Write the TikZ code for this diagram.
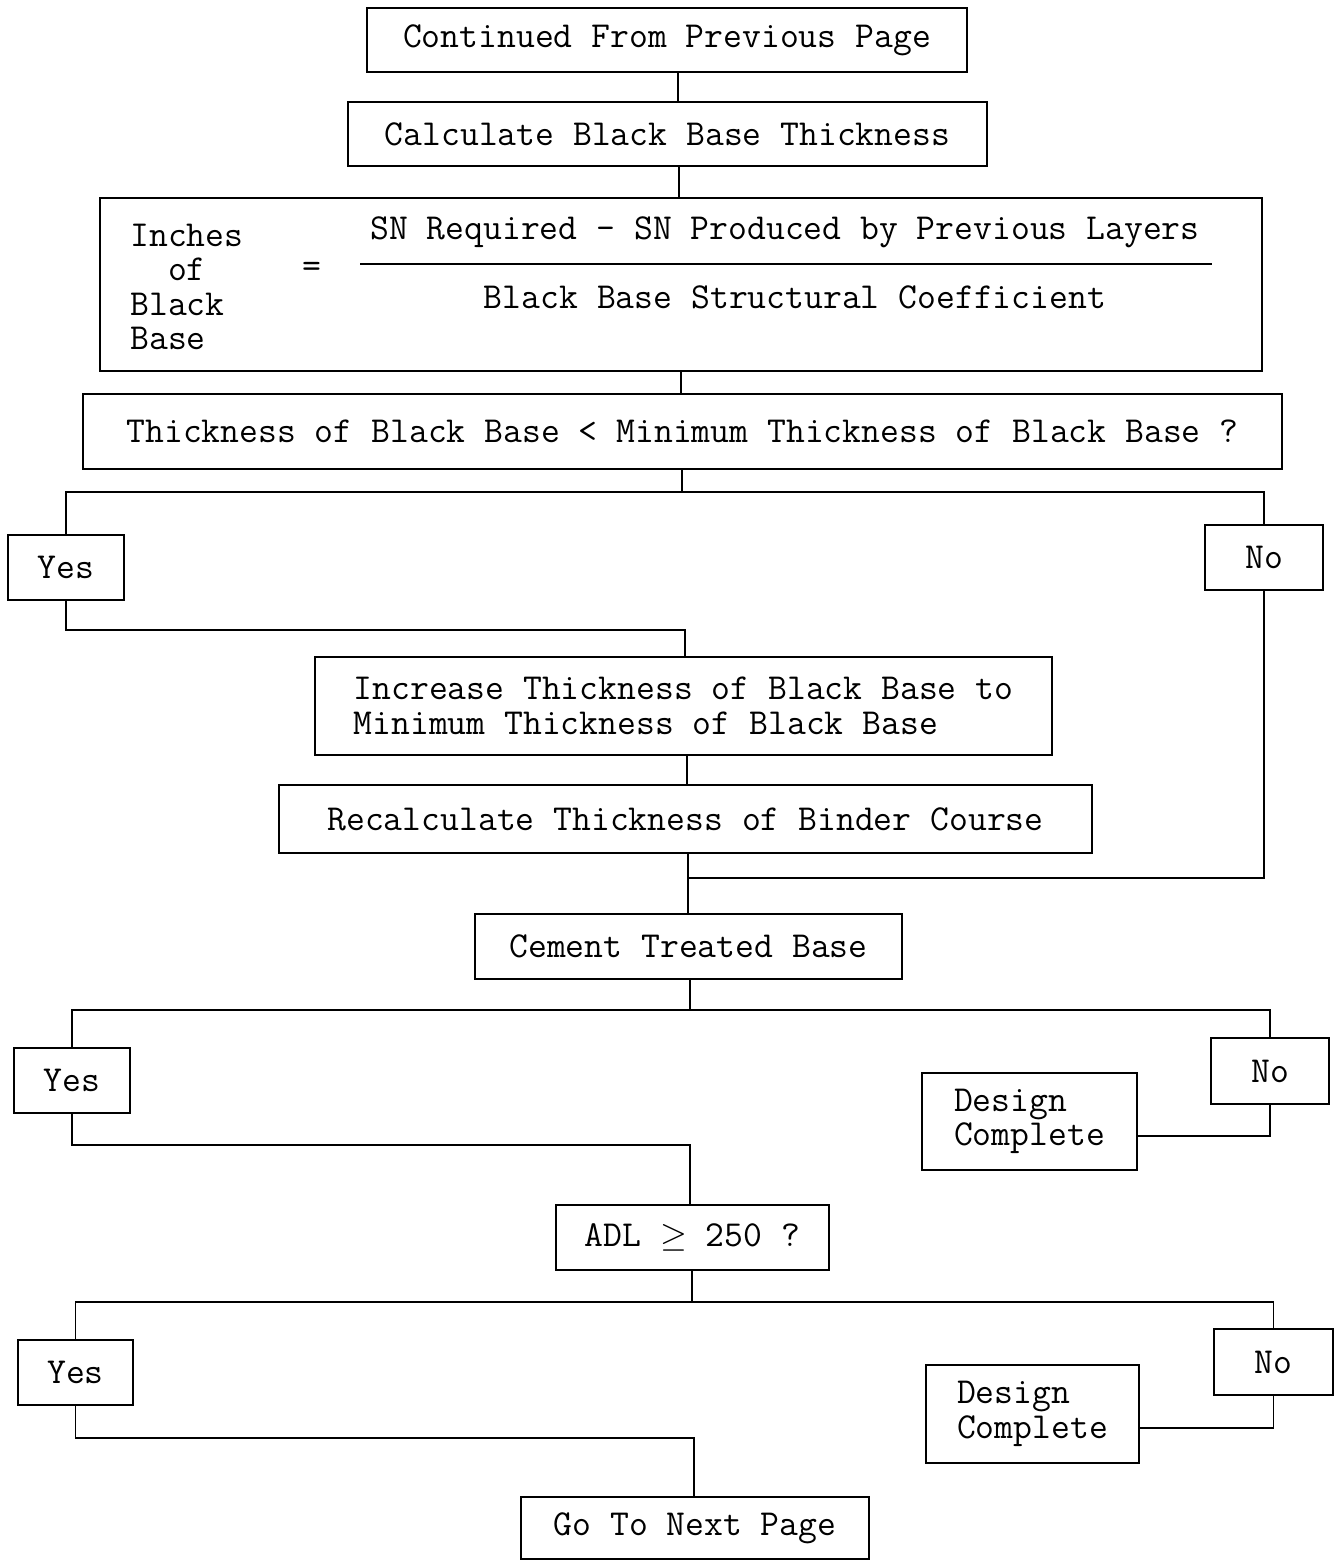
\documentclass[tikz,border=0pt]{standalone}
\usepackage{fontspec}
\begin{document}
\begin{tikzpicture}[x=0.5pt,y=-0.5pt,
  box/.style={draw, line width=0.9pt, inner sep=0pt, font=\ttfamily\fontsize{18.3}{17.2}\selectfont, align=center},
  txt/.style={inner sep=0pt, font=\ttfamily\fontsize{18.3}{17.2}\selectfont},
  conn/.style={line width=0.9pt}]
\useasboundingbox[fill=white] (0,0) rectangle (1342,1560);

% boxes
\node[box, minimum width=300pt, minimum height=32pt] (cont) at (667,40) {Continued From Previous Page};
\node[box, minimum width=319.5pt, minimum height=32pt] (calc) at (667.5,134) {Calculate Black Base Thickness};
\node[box, minimum width=581pt, minimum height=86.5pt] (form) at (681,284.5) {};
\node[txt, anchor=west, align=left] (lhs) at (130,287) {Inches\\\phantom{In}of\\Black\\Base};
\node[txt] (eq) at (312,270) {=};
\node[txt] (num) at (785,232) {SN Required - SN Produced by Previous Layers};
\node[txt] (den) at (795,297) {Black Base Structural Coefficient};
\draw[line width=0.8pt] (360,264) -- (1212,264);
\node[box, minimum width=599.5pt, minimum height=37.5pt] (thick) at (682.5,431.5) {Thickness of Black Base < Minimum Thickness of Black Base ?};
\node[box, minimum width=58pt, minimum height=32.5pt] (yes1) at (66,567.5) {Yes};
\node[box, minimum width=59pt, minimum height=32.5pt] (no1) at (1264,557.5) {No};
\node[box, minimum width=368.5pt, minimum height=49pt, align=left] (inc) at (683.5,706) {Increase Thickness of Black Base to\\Minimum Thickness of Black Base};
\node[box, minimum width=406.5pt, minimum height=34pt] (recalc) at (685.5,819) {Recalculate Thickness of Binder Course};
\node[box, minimum width=213.5pt, minimum height=32.5pt] (cement) at (688.5,946.5) {Cement Treated Base};
\node[box, minimum width=58pt, minimum height=32.5pt] (yes2) at (72,1080.5) {Yes};
\node[box, minimum width=59pt, minimum height=33pt] (no2) at (1270,1071) {No};
\node[box, minimum width=107.5pt, minimum height=48.5pt, align=left] (dc1) at (1029.5,1121.5) {Design\\Complete};
\node[box, minimum width=136.5pt, minimum height=32.5pt] (adl) at (692.5,1237.5) {ADL $\geq$ 250 ?};
\node[box, minimum width=57.5pt, minimum height=32.5pt] (yes3) at (75.5,1372.5) {Yes};
\node[box, minimum width=59.5pt, minimum height=33pt] (no3) at (1273.5,1362) {No};
\node[box, minimum width=106.5pt, minimum height=49pt, align=left] (dc2) at (1032.5,1414) {Design\\Complete};
\node[box, minimum width=174pt, minimum height=31pt] (next) at (695,1528) {Go To Next Page};

% junction coordinates
\coordinate (c1) at (678,0);
\coordinate (c2) at (679,0);
\coordinate (c3) at (681,0);
\coordinate (j1) at (682,492);
\coordinate (k1) at (685,630);
\coordinate (c4) at (687,0);
\coordinate (j2) at (688,878);
\coordinate (j3) at (690,1010);
\coordinate (m1) at (1270,1136);
\coordinate (k2) at (690,1145);
\coordinate (j4) at (692,1302);
\coordinate (m2) at (1273.5,1428);
\coordinate (k3) at (694,1438);

% connectors
\draw[conn] (cont.south -| c1) -- (calc.north -| c1);
\draw[conn] (calc.south -| c2) -- (form.north -| c2);
\draw[conn] (form.south -| c3) -- (thick.north -| c3);
\draw[conn] (thick.south -| j1) -- (j1);
\draw[conn] (yes1.north) |- (j1) -| (no1.north);
\draw[conn] (yes1.south) |- (k1) -- (inc.north -| k1);
\draw[conn] (inc.south -| c4) -- (recalc.north -| c4);
\draw[conn] (recalc.south -| j2) -- (cement.north -| j2);
\draw[conn] (no1.south) |- (j2);
\draw[conn] (cement.south -| j3) -- (j3);
\draw[conn] (yes2.north) |- (j3) -| (no2.north);
\draw[conn] (no2.south) -- (m1) -- (dc1.east |- m1);
\draw[conn] (yes2.south) |- (k2) -- (adl.north -| k2);
\draw[conn] (adl.south -| j4) -- (j4);
\draw[conn] (yes3.north) |- (j4) -| (no3.north);
\draw[conn] (no3.south) -- (m2) -- (dc2.east |- m2);
\draw[conn] (yes3.south) |- (k3) -- (next.north -| k3);
\end{tikzpicture}
\end{document}
